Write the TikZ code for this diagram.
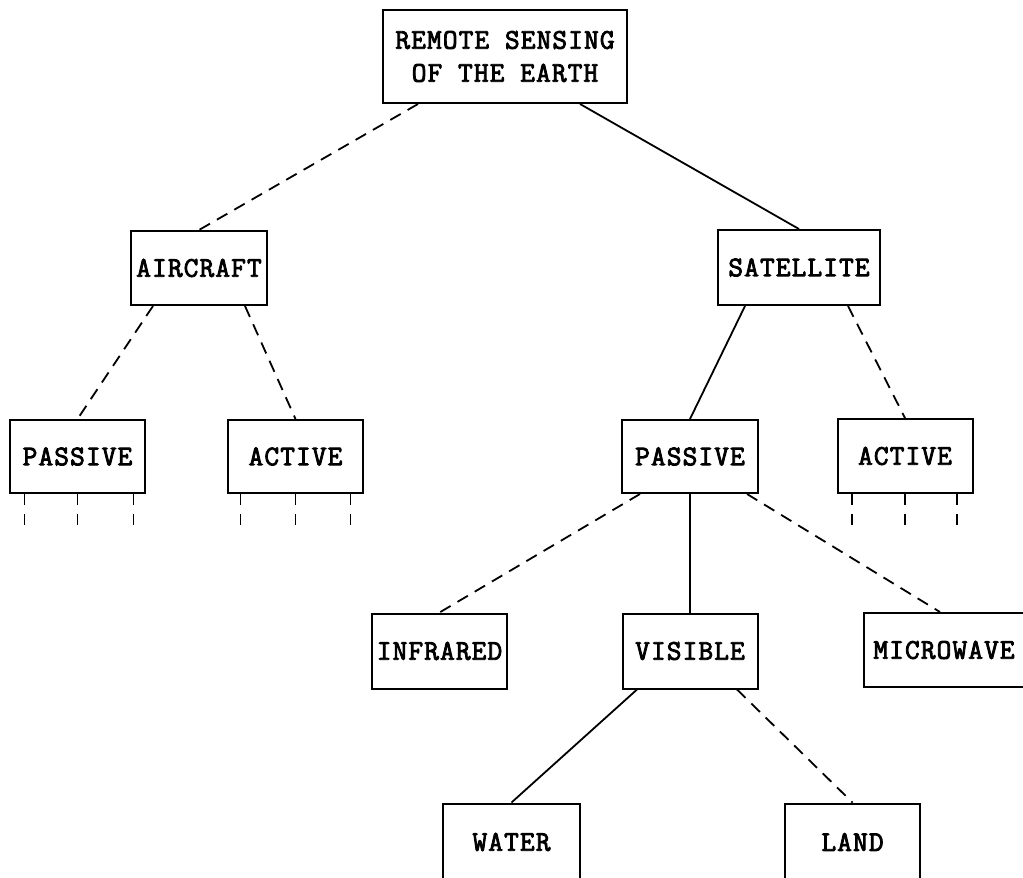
\documentclass[tikz,border=0pt]{standalone}
\usepackage{fontspec}
\newfontfamily\boxfont[LetterSpace=4,FakeBold=3]{Latin Modern Mono}
\begin{document}
\begin{tikzpicture}[x=1pt,y=-1pt,
  box/.style={draw,line width=2pt,rectangle,inner sep=0pt,align=center,
    font=\boxfont\fontsize{28.5}{33}\selectfont},
  conn/.style={line width=1.8pt},
  dconn/.style={line width=1.8pt,dash pattern=on 12pt off 8pt},
  stub/.style={line width=1.8pt,dash pattern=on 11pt off 9pt}]
\useasboundingbox (0,0) rectangle (1023,878);
\node[box,minimum width=244pt,minimum height=93pt] (root) at (505,56.5) {REMOTE SENSING\\OF THE EARTH};
\node[box,minimum width=136pt,minimum height=74pt] (aircraft) at (199,268) {AIRCRAFT};
\node[box,minimum width=162pt,minimum height=75pt] (satellite) at (799,267.5) {SATELLITE};
\node[box,minimum width=135pt,minimum height=73pt] (passiveL) at (77.5,456.5) {PASSIVE};
\node[box,minimum width=135pt,minimum height=73pt] (activeL) at (295.5,456.5) {ACTIVE};
\node[box,minimum width=136pt,minimum height=73pt] (passiveR) at (690,456.5) {PASSIVE};
\node[box,minimum width=135pt,minimum height=74pt] (activeR) at (905,456) {ACTIVE};
\node[box,minimum width=135pt,minimum height=75pt] (infrared) at (439.5,651) {INFRARED};
\node[box,minimum width=135pt,minimum height=75pt] (visible) at (690,651) {VISIBLE};
\node[box,minimum width=160pt,minimum height=74pt] (microwave) at (944,650) {MICROWAVE};
\node[box,minimum width=137pt,minimum height=77pt] (water) at (511.5,842) {WATER};
\node[box,minimum width=135pt,minimum height=77pt] (land) at (852.5,842) {LAND};

\draw[dconn] ([xshift=-87pt]root.south) -- (aircraft.north);
\draw[conn] ([xshift=75pt]root.south) -- (satellite.north);
\draw[dconn] ([xshift=-46pt]aircraft.south) -- (passiveL.north);
\draw[dconn] ([xshift=46pt]aircraft.south) -- (activeL.north);
\draw[conn] ([xshift=-54pt]satellite.south) -- (passiveR.north);
\draw[dconn] ([xshift=49pt]satellite.south) -- (activeR.north);
\draw[dconn] ([xshift=-50pt]passiveR.south) -- (infrared.north);
\draw[conn] (passiveR.south) -- (visible.north);
\draw[dconn] ([xshift=57pt]passiveR.south) -- ([xshift=-4pt]microwave.north);
\draw[conn] ([xshift=-53pt]visible.south) -- (water.north);
\draw[dconn] ([xshift=47pt]visible.south) -- (land.north);

\foreach \n/\a/\b/\c in {passiveL/-53/0/56, activeL/-55/0/55, activeR/-53/0/52}{
  \draw[stub] ([xshift=\a pt]\n.south) -- ++(0,32);
  \draw[stub] ([xshift=\b pt]\n.south) -- ++(0,32);
  \draw[stub] ([xshift=\c pt]\n.south) -- ++(0,32);
}
\end{tikzpicture}
\end{document}
